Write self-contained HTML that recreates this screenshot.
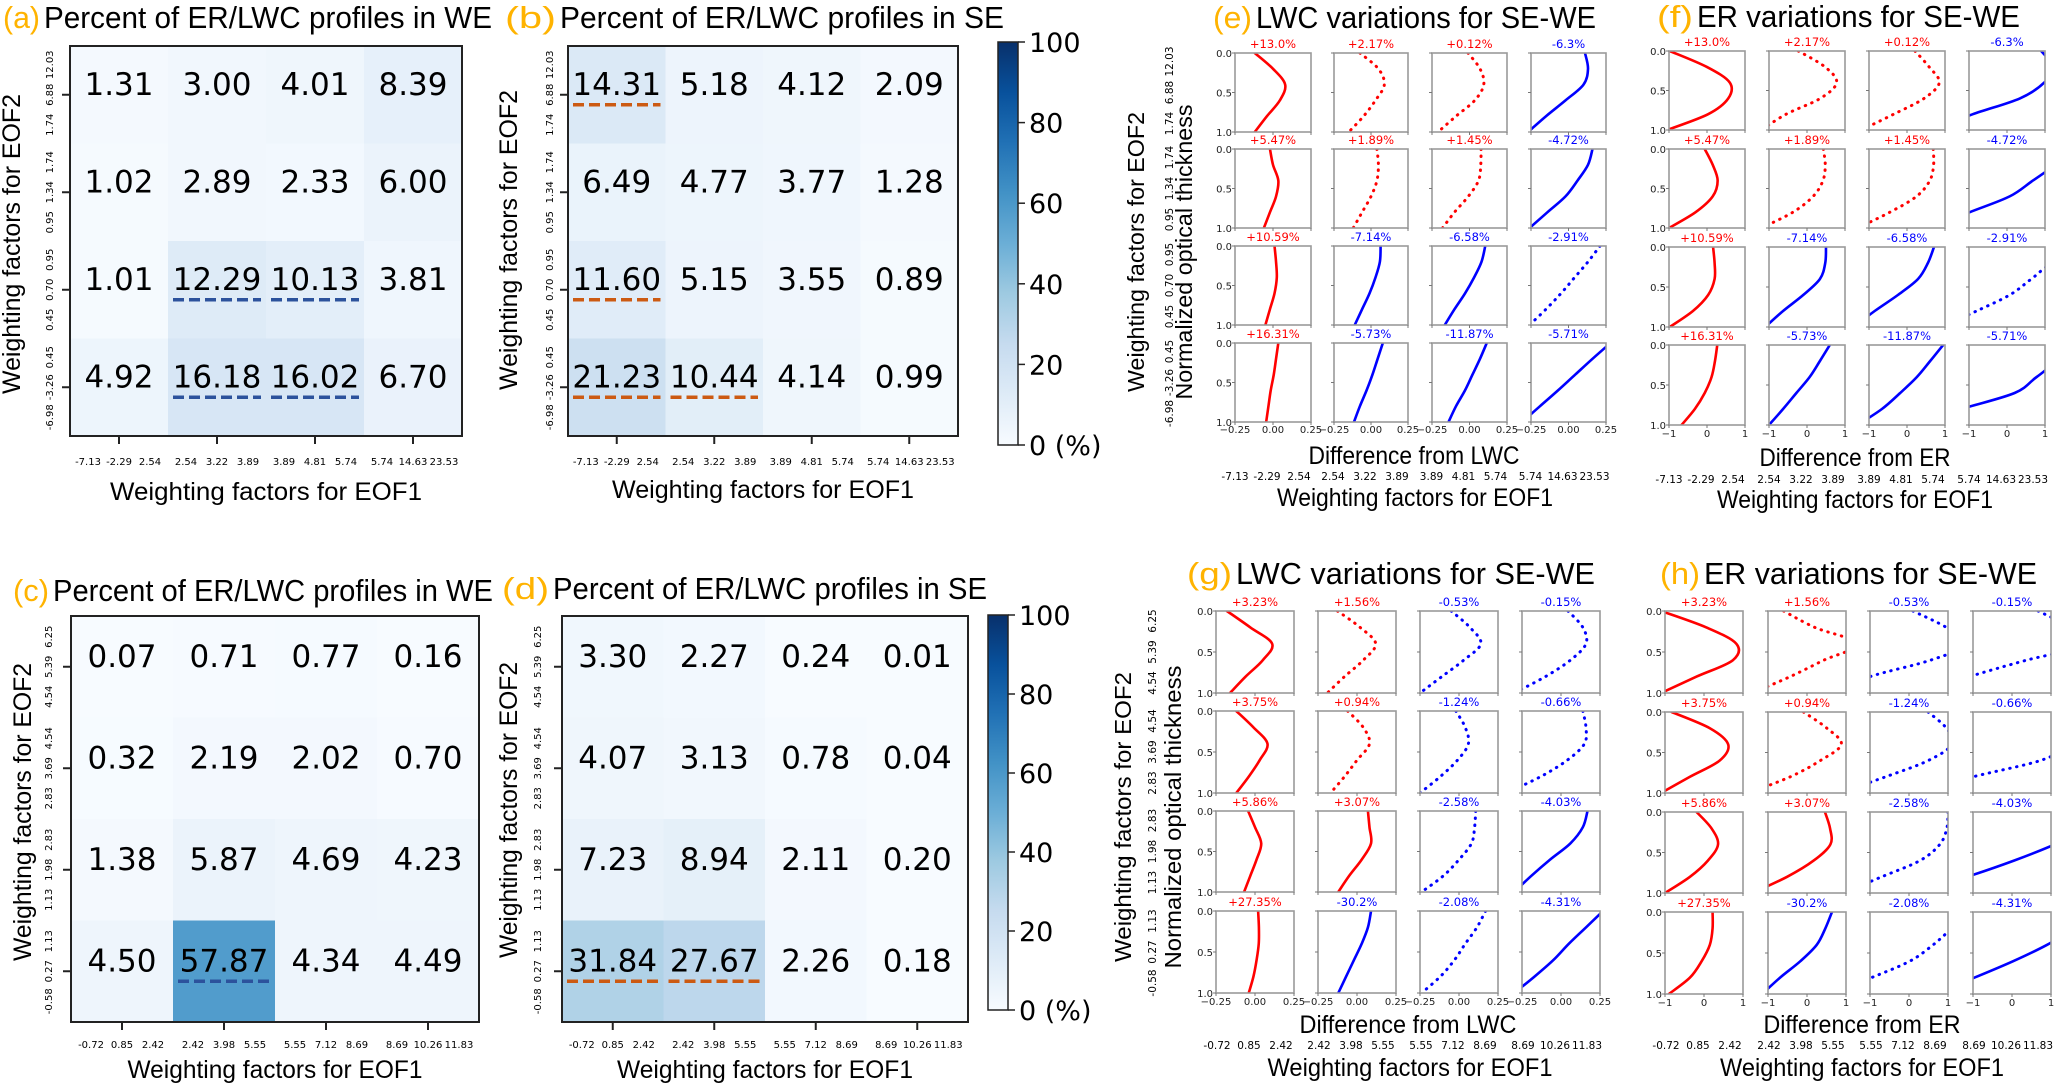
<!DOCTYPE html>
<html><head><meta charset="utf-8"><title>EOF weighting factor figure</title>
<style>
html,body{margin:0;padding:0;background:#fff;}
svg{display:block;font-family:"DejaVu Sans","Liberation Sans",sans-serif;}
</style></head>
<body>
<svg id="fig" xmlns="http://www.w3.org/2000/svg" width="2068" height="1085" viewBox="0 0 2068 1085"></svg>
<script>
// ---------------- DATA ----------------
const hmA = [[1.31,3.00,4.01,8.39],[1.02,2.89,2.33,6.00],[1.01,12.29,10.13,3.81],[4.92,16.18,16.02,6.70]];
const hmB = [[14.31,5.18,4.12,2.09],[6.49,4.77,3.77,1.28],[11.60,5.15,3.55,0.89],[21.23,10.44,4.14,0.99]];
const hmC = [[0.07,0.71,0.77,0.16],[0.32,2.19,2.02,0.70],[1.38,5.87,4.69,4.23],[4.50,57.87,4.34,4.49]];
const hmD = [[3.30,2.27,0.24,0.01],[4.07,3.13,0.78,0.04],[7.23,8.94,2.11,0.20],[31.84,27.67,2.26,0.18]];
const ulA = [[2,1],[2,2],[3,1],[3,2]];
const ulB = [[0,0],[2,0],[3,0],[3,1]];
const ulC = [[3,1]];
const ulD = [[3,0],[3,1]];
const eof1Top = [["-7.13","-2.29","2.54"],["2.54","3.22","3.89"],["3.89","4.81","5.74"],["5.74","14.63","23.53"]];
const eof2Top = [["1.74","6.88","12.03"],["0.95","1.34","1.74"],["0.45","0.70","0.95"],["-6.98","-3.26","0.45"]];
const eof1Bot = [["-0.72","0.85","2.42"],["2.42","3.98","5.55"],["5.55","7.12","8.69"],["8.69","10.26","11.83"]];
const eof2Bot = [["4.54","5.39","6.25"],["2.83","3.69","4.54"],["1.13","1.98","2.83"],["-0.58","0.27","1.13"]];
const cbTicks = [0,20,40,60,80,100];

const depthLevels = [0,0.2,0.4,0.6,0.8,1.0];
const labTop = [["+13.0%","+2.17%","+0.12%","-6.3%"],["+5.47%","+1.89%","+1.45%","-4.72%"],["+10.59%","-7.14%","-6.58%","-2.91%"],["+16.31%","-5.73%","-11.87%","-5.71%"]];
const labBot = [["+3.23%","+1.56%","-0.53%","-0.15%"],["+3.75%","+0.94%","-1.24%","-0.66%"],["+5.86%","+3.07%","-2.58%","-4.03%"],["+27.35%","-30.2%","-2.08%","-4.31%"]];
const dotTop = [[0,1,1,0],[0,1,1,0],[0,0,0,1],[0,0,0,0]];
const dotBot = [[0,1,1,1],[0,1,1,1],[0,0,1,0],[0,0,1,0]];
const profE = [
 [[-0.12,0.0,0.08,0.045,-0.04,-0.12],[-0.075,0.05,0.09,0.03,-0.05,-0.15],[-0.01,0.07,0.095,0.035,-0.09,-0.21],[0.11,0.13,0.1,-0.02,-0.15,-0.27]],
 [[-0.02,0.0,0.035,0.02,-0.02,-0.06],[0.04,0.05,0.04,0.0,-0.06,-0.12],[0.077,0.075,0.06,-0.008,-0.1,-0.18],[0.16,0.13,0.06,-0.02,-0.14,-0.26]],
 [[0.01,0.02,0.025,0.01,-0.02,-0.05],[0.065,0.06,0.03,-0.01,-0.06,-0.11],[0.105,0.08,0.03,-0.03,-0.1,-0.165],[0.21,0.13,0.04,-0.05,-0.15,-0.26]],
 [[0.035,0.02,0.005,-0.015,-0.03,-0.045],[0.08,0.045,0.01,-0.03,-0.075,-0.115],[0.115,0.07,0.02,-0.03,-0.09,-0.14],[0.28,0.16,0.045,-0.07,-0.19,-0.31]]];
const profF = [
 [[-0.98,-0.01,0.6,0.56,0.03,-1.05],[-0.23,0.47,0.78,0.35,-0.55,-1.2],[0.21,0.58,0.85,0.45,-0.35,-1.2],[0.9,1.2,0.98,0.34,-0.9,-2.0]],
 [[-0.06,0.15,0.28,0.15,-0.3,-1.0],[0.43,0.48,0.42,0.16,-0.37,-1.2],[0.69,0.7,0.6,0.25,-0.45,-1.3],[2.0,1.3,0.68,0.07,-0.98,-2.0]],
 [[0.16,0.2,0.2,0.03,-0.37,-0.98],[0.5,0.48,0.34,-0.1,-0.63,-1.1],[0.71,0.55,0.29,-0.24,-0.85,-1.4],[2.2,1.2,0.64,0.07,-0.8,-1.7]],
 [[0.27,0.21,0.12,-0.06,-0.32,-0.67],[0.6,0.34,0.07,-0.28,-0.63,-1.0],[0.95,0.61,0.26,-0.18,-0.66,-1.3],[2.5,1.4,0.78,0.2,-1.2,-2.5]]];
const profG = [
 [[-0.18,-0.03,0.11,0.05,-0.06,-0.16],[-0.125,0.02,0.12,0.04,-0.08,-0.19],[-0.05,0.07,0.14,0.03,-0.11,-0.25],[0.045,0.14,0.16,0.06,-0.1,-0.3]],
 [[-0.12,-0.01,0.08,0.03,-0.04,-0.12],[-0.06,0.04,0.08,0.0,-0.08,-0.17],[-0.02,0.04,0.06,-0.01,-0.12,-0.25],[0.14,0.16,0.15,0.04,-0.13,-0.35]],
 [[-0.044,0.0,0.04,0.01,-0.03,-0.07],[0.07,0.08,0.09,0.03,-0.05,-0.12],[0.107,0.1,0.08,0.0,-0.1,-0.24],[0.17,0.14,0.06,-0.07,-0.19,-0.3]],
 [[0.02,0.025,0.024,0.01,-0.01,-0.04],[0.09,0.07,0.03,-0.02,-0.07,-0.12],[0.17,0.115,0.04,-0.03,-0.12,-0.24],[0.27,0.16,0.05,-0.05,-0.17,-0.3]]];
const profH = [
 [[-1.1,0.06,0.83,0.74,-0.19,-1.1],[-0.6,0.2,1.3,0.43,-0.43,-1.4],[0.1,0.96,1.5,0.55,-1.0,-2.0],[0.67,1.5,2.0,0.37,-1.1,-2.5]],
 [[-0.83,0.15,0.62,0.4,-0.36,-1.1],[-0.09,0.51,0.88,0.34,-0.43,-1.5],[0.49,0.96,1.1,0.49,-0.6,-1.8],[3,2.5,1.6,0.72,-1.0,-2.5]],
 [[-0.19,0.19,0.36,0.1,-0.36,-1.0],[0.46,0.59,0.6,0.17,-0.51,-1.4],[1.0,0.97,0.79,0.28,-0.7,-1.7],[3,2,1.1,0.05,-1.15,-2.5]],
 [[0.22,0.22,0.15,-0.06,-0.36,-0.9],[0.64,0.47,0.25,-0.17,-0.69,-1.15],[1.6,1.1,0.62,0.02,-0.96,-2.0],[2.6,1.6,0.9,0.03,-0.96,-2.0]]];

// ---------------- HELPERS ----------------
const NS = "http://www.w3.org/2000/svg";
const svg = document.getElementById('fig');
function mk(parent, tag, attrs, name) {
  const el = document.createElementNS(NS, tag);
  for (const k in attrs) el.setAttribute(k, attrs[k]);
  
  
  parent.appendChild(el);
  return el;
}
function txt(parent, x, y, s, size, name, opts) {
  opts = opts || {};
  const a = {x: x, y: y, 'font-size': size, fill: opts.fill || '#000', 'text-anchor': opts.anchor || 'middle'};
  if (opts.len) { a.textLength = opts.len; a.lengthAdjust = 'spacingAndGlyphs'; }
  if (opts.rot) a.transform = 'rotate(-90 ' + x + ' ' + y + ')';
  if (opts.family) a['font-family'] = opts.family;
  const t = mk(parent, 'text', a, name);
  t.textContent = s;
  return t;
}
const blueStops = ['#f7fbff','#deebf7','#c6dbef','#9ecae1','#6baed6','#4292c6','#2171b5','#08519c','#08306b'];
function hex2rgb(h){return [parseInt(h.substr(1,2),16),parseInt(h.substr(3,2),16),parseInt(h.substr(5,2),16)];}
function blues(t) {
  t = Math.max(0, Math.min(1, t));
  const p = t * 8, i = Math.min(7, Math.floor(p)), f = p - i;
  const a = hex2rgb(blueStops[i]), b = hex2rgb(blueStops[i+1]);
  return 'rgb(' + a.map((v,k)=>Math.round(v + (b[k]-v)*f)).join(',') + ')';
}
const TITLE_FONT = '"Liberation Sans","DejaVu Sans",sans-serif';
function title(x0, x1, x2, base, letter, rest, name) {
  const g = mk(svg, 'g', {}, name);
  txt(g, x0, base, '(' + letter + ')', 31, 'panel-letter', {anchor:'start', fill:'#ffb300', len: x1 - x0 - 4, family: TITLE_FONT});
  txt(g, x1, base, rest, 31, 'panel-title-text', {anchor:'start', len: x2 - x1, family: TITLE_FONT});
}

// ---------------- HEATMAPS ----------------
function heatmap(cfg) {
  const g = mk(svg, 'g', {}, cfg.name);
  const {x0,x1,y0,y1} = cfg;
  const cw = (x1-x0)/4, ch = (y1-y0)/4;
  const X = c => x0 + c*cw, Y = r => y0 + r*ch;
  cfg.data.forEach((row, r) => row.forEach((v, c) => {
    mk(g, 'rect', {x: X(c), y: Y(r), width: cw+0.5, height: ch+0.5, fill: blues(v/100)}, 'heatmap-cell');
  }));
  cfg.data.forEach((row, r) => row.forEach((v, c) => {
    txt(g, X(c)+cw/2, Y(r)+ch/2, v.toFixed(2), 31, 'cell-value');
  }));
  cfg.ul.forEach(([r, c]) => {
    mk(g, 'line', {x1: X(c)+5, x2: X(c)+cw-5, y1: Y(r)+ch/2+10, y2: Y(r)+ch/2+10, stroke: cfg.ulColor, 'stroke-width': 3.5, 'stroke-dasharray': '11 5'}, 'highlight-dash');
  });
  mk(g, 'rect', {x: x0, y: y0, width: x1-x0, height: y1-y0, fill: 'none', stroke: '#222', 'stroke-width': 2}, 'plot-frame');
  for (let i = 0; i < 4; i++) {
    const cx = X(i)+cw/2, cy = Y(i)+ch/2;
    mk(g, 'line', {x1: cx, x2: cx, y1: y1, y2: y1+8, stroke: '#222', 'stroke-width': 2}, 'x-tick');
    mk(g, 'line', {x1: x0-8, x2: x0, y1: cy, y2: cy, stroke: '#222', 'stroke-width': 2}, 'y-tick');
    cfg.xl[i].forEach((s, k) => txt(g, cx + (k-1)*31, cfg.xlBase, s, 10, 'x-tick-label'));
    cfg.yl[3-i].forEach((s, k) => txt(g, cfg.ylX, Y(3-i)+ch/2 - (k-1)*30, s, 10, 'y-tick-label', {rot:true}));
  }
  txt(g, (x0+x1)/2, cfg.xtBase, 'Weighting factors for EOF1', 25, 'x-axis-title', {len: cfg.xtLen, family: TITLE_FONT});
  txt(g, cfg.ytX, cfg.ytC, 'Weighting factors for EOF2', 25, 'y-axis-title', {rot: true, len: cfg.ytLen, family: TITLE_FONT});
}
function colorbar(x0, x1, y0, y1, name) {
  const g = mk(svg, 'g', {}, name);
  const H = v => y1 - v/100*(y1-y0);
  const defs = mk(g, 'defs', {}, 'colorbar-defs');
  const gr = mk(defs, 'linearGradient', {id: name+'-grad', x1: 0, y1: 1, x2: 0, y2: 0}, 'colorbar-gradient');
  for (let i = 0; i <= 8; i++) mk(gr, 'stop', {offset: (i/8), 'stop-color': blueStops[i]}, 'gradient-stop');
  mk(g, 'rect', {x: x0, y: y0, width: x1-x0, height: y1-y0, fill: 'url(#'+name+'-grad)', stroke: '#222', 'stroke-width': 1.5}, 'colorbar-bar');
  cbTicks.forEach(v => {
    mk(g, 'line', {x1: x1, x2: x1+7, y1: H(v), y2: H(v), stroke: '#222', 'stroke-width': 1.5}, 'colorbar-tick');
    txt(g, x1+11, H(v)+10, v === 0 ? '0 (%)' : String(v), 27, 'colorbar-label', {anchor: 'start'});
  });
}

title(3, 44, 492, 28, 'a', 'Percent of ER/LWC profiles in WE', 'title-a');
title(505, 560, 1004, 28, 'b', 'Percent of ER/LWC profiles in SE', 'title-b');
title(13, 53, 493, 601, 'c', 'Percent of ER/LWC profiles in WE', 'title-c');
title(502, 553, 987, 599, 'd', 'Percent of ER/LWC profiles in SE', 'title-d');

heatmap({name:'heatmap-a', data: hmA, ul: ulA, ulColor: '#2c529c', x0:70, x1:462, y0:46, y1:436, xl: eof1Top, yl: eof2Top, xlBase: 465, ylX: 53, xtBase: 500, xtLen: 312, ytX: 20, ytC: 244, ytLen: 300});
heatmap({name:'heatmap-b', data: hmB, ul: ulB, ulColor: '#cc5a12', x0:568, x1:958, y0:46, y1:436, xl: eof1Top, yl: eof2Top, xlBase: 465, ylX: 553, xtBase: 498, xtLen: 302, ytX: 517, ytC: 240, ytLen: 300});
heatmap({name:'heatmap-c', data: hmC, ul: ulC, ulColor: '#2c529c', x0:71, x1:479, y0:616, y1:1022, xl: eof1Bot, yl: eof2Bot, xlBase: 1048, ylX: 52, xtBase: 1078, xtLen: 295, ytX: 31, ytC: 812, ytLen: 298});
heatmap({name:'heatmap-d', data: hmD, ul: ulD, ulColor: '#cc5a12', x0:562, x1:968, y0:616, y1:1022, xl: eof1Bot, yl: eof2Bot, xlBase: 1048, ylX: 541, xtBase: 1078, xtLen: 296, ytX: 517, ytC: 810, ytLen: 296});
colorbar(998, 1018, 42, 445, 'colorbar-top');
colorbar(988, 1008, 615, 1010, 'colorbar-bottom');

// ---------------- PROFILE GRIDS ----------------
let clipId = 0;
function profiles(cfg) {
  const g = mk(svg, 'g', {}, cfg.name);
  const lim = cfg.lim;
  cfg.cols.forEach(([cx0, cx1], c) => cfg.rows.forEach(([ry0, ry1], r) => {
    const sg = mk(g, 'g', {}, 'profile-subplot');
    const X = v => cx0 + (v + lim) / (2*lim) * (cx1 - cx0);
    const Y = d => ry0 + d * (ry1 - ry0);
    const label = cfg.labels[r][c];
    const color = label.charAt(0) === '-' ? '#0000ff' : '#ff0000';
    const id = 'clip' + (clipId++);
    const cp = mk(sg, 'clipPath', {id: id}, 'subplot-clip');
    mk(cp, 'rect', {x: cx0, y: ry0, width: cx1-cx0, height: ry1-ry0}, 'clip-rect');
    const pts = cfg.data[r][c].map((v, i) => [X(v), Y(depthLevels[i])]);
    let d = 'M' + pts[0][0].toFixed(2) + ' ' + pts[0][1].toFixed(2);
    for (let i = 0; i < pts.length - 1; i++) {
      const p0 = pts[Math.max(0, i-1)], p1 = pts[i], p2 = pts[i+1], p3 = pts[Math.min(pts.length-1, i+2)];
      const c1 = [p1[0] + (p2[0]-p0[0])/6, p1[1] + (p2[1]-p0[1])/6];
      const c2 = [p2[0] - (p3[0]-p1[0])/6, p2[1] - (p3[1]-p1[1])/6];
      d += ' C' + c1.map(v=>v.toFixed(2)).join(' ') + ' ' + c2.map(v=>v.toFixed(2)).join(' ') + ' ' + p2.map(v=>v.toFixed(2)).join(' ');
    }
    const dotted = cfg.dots[r][c] === 1;
    const pa = {d: d, fill: 'none', stroke: color, 'stroke-width': dotted ? 3 : 2.6, 'clip-path': 'url(#' + id + ')', 'stroke-linecap': 'round'};
    if (dotted) pa['stroke-dasharray'] = '0.5 6.5';
    mk(sg, 'path', pa, 'profile-line');
    mk(sg, 'rect', {x: cx0, y: ry0, width: cx1-cx0, height: ry1-ry0, fill: 'none', stroke: '#9a9a9a', 'stroke-width': 1.6}, 'subplot-frame');
    txt(sg, (cx0+cx1)/2, ry0 - 5, label, 11.5, 'subplot-label', {fill: color});
    [0, 0.5, 1].forEach(t => mk(sg, 'line', {x1: cx0-3, x2: cx0, y1: Y(t), y2: Y(t), stroke: '#777', 'stroke-width': 1}, 'y-minor-tick'));
    cfg.xt.forEach(t => mk(sg, 'line', {x1: X(t), x2: X(t), y1: ry1, y2: ry1+3, stroke: '#777', 'stroke-width': 1}, 'x-minor-tick'));
    if (c === 0) ['0.0','0.5','1.0'].forEach((s, k) => txt(sg, cx0 - 3, Y(k*0.5) + 4, s, 10, 'depth-tick-label', {anchor: 'end', fill: '#222'}));
    if (r === 3) cfg.xt.forEach((t, k) => txt(sg, X(t), cfg.xtBase, cfg.xtl[k], 10, 'diff-tick-label', {fill: '#222'}));
  }));
  // EOF1 group labels
  cfg.cols.forEach(([cx0, cx1], c) => cfg.eof1[c].forEach((s, k) => txt(g, (cx0+cx1)/2 - 6 + (k-1)*32, cfg.e1Base, s, 10.5, 'eof1-tick-label')));
  txt(g, cfg.diffX, cfg.diffBase, cfg.diffText, 25, 'x-axis-title', {len: cfg.diffLen, family: TITLE_FONT});
  txt(g, cfg.e1X, cfg.e1TBase, 'Weighting factors for EOF1', 25, 'x-axis-title-eof1', {len: cfg.e1TLen, family: TITLE_FONT});
  if (cfg.yTitles) {
    const yt = cfg.yTitles;
    cfg.rows.forEach(([ry0, ry1], r) => cfg.eof2[r].forEach((s, k) => txt(g, yt.tickX, (ry0+ry1)/2 - (k-1)*31, s, 10.5, 'eof2-tick-label', {rot: true})));
    txt(g, yt.eofX, yt.eofC, 'Weighting factors for EOF2', 23, 'y-axis-title-eof2', {rot: true, len: yt.eofLen, family: TITLE_FONT});
    txt(g, yt.normX, yt.normC, 'Normalized optical thickness', 23, 'y-axis-title-depth', {rot: true, len: yt.normLen, family: TITLE_FONT});
  }
}

title(1213, 1256, 1596, 28, 'e', 'LWC variations for SE-WE', 'title-e');
title(1657, 1697, 2020, 27, 'f', 'ER variations for SE-WE', 'title-f');
title(1187, 1236, 1595, 584, 'g', 'LWC variations for SE-WE', 'title-g');
title(1660, 1704, 2037, 584, 'h', 'ER variations for SE-WE', 'title-h');

const rowsTop = [[53,132],[149,228],[246,325],[343,422]];
const rowsBot = [[611,693],[711,793],[811,892],[911,993]];
profiles({name:'profiles-e', lim:0.25, data: profE, labels: labTop, dots: dotTop,
  cols: [[1235,1311],[1334,1408],[1432,1507],[1531,1606]], rows: rowsTop,
  xt: [-0.25,0,0.25], xtl: ['\u22120.25','0.00','0.25'], xtBase: 433, eof1: eof1Top, eof2: eof2Top, e1Base: 480,
  diffText: 'Difference from LWC', diffX: 1414, diffBase: 464, diffLen: 211, e1X: 1415, e1TBase: 506, e1TLen: 276,
  yTitles: {tickX: 1173, eofX: 1144, eofC: 252, eofLen: 280, normX: 1192, normC: 252, normLen: 295}});
profiles({name:'profiles-f', lim:1, data: profF, labels: labTop, dots: dotTop,
  cols: [[1669,1745],[1769,1845],[1869,1945],[1969,2045]], rows: [[51,130],[149,228],[247,327],[345,425]],
  xt: [-1,0,1], xtl: ['\u22121','0','1'], xtBase: 437, eof1: eof1Top, e1Base: 483,
  diffText: 'Difference from ER', diffX: 1855, diffBase: 466, diffLen: 191, e1X: 1855, e1TBase: 508, e1TLen: 276});
profiles({name:'profiles-g', lim:0.25, data: profG, labels: labBot, dots: dotBot,
  cols: [[1216,1294],[1318,1396],[1420,1498],[1522,1600]], rows: rowsBot,
  xt: [-0.25,0,0.25], xtl: ['\u22120.25','0.00','0.25'], xtBase: 1005, eof1: eof1Bot, eof2: eof2Bot, e1Base: 1049,
  diffText: 'Difference from LWC', diffX: 1408, diffBase: 1033, diffLen: 217, e1X: 1410, e1TBase: 1076, e1TLen: 285,
  yTitles: {tickX: 1156, eofX: 1131, eofC: 817, eofLen: 290, normX: 1181, normC: 817, normLen: 303}});
profiles({name:'profiles-h', lim:1, data: profH, labels: labBot, dots: dotBot,
  cols: [[1665,1743],[1768,1846],[1870,1948],[1973,2051]], rows: [[611,693],[712,793],[812,893],[912,994]],
  xt: [-1,0,1], xtl: ['\u22121','0','1'], xtBase: 1006, eof1: eof1Bot, e1Base: 1049,
  diffText: 'Difference from ER', diffX: 1862, diffBase: 1033, diffLen: 197, e1X: 1862, e1TBase: 1076, e1TLen: 284});
</script>
</body></html>
